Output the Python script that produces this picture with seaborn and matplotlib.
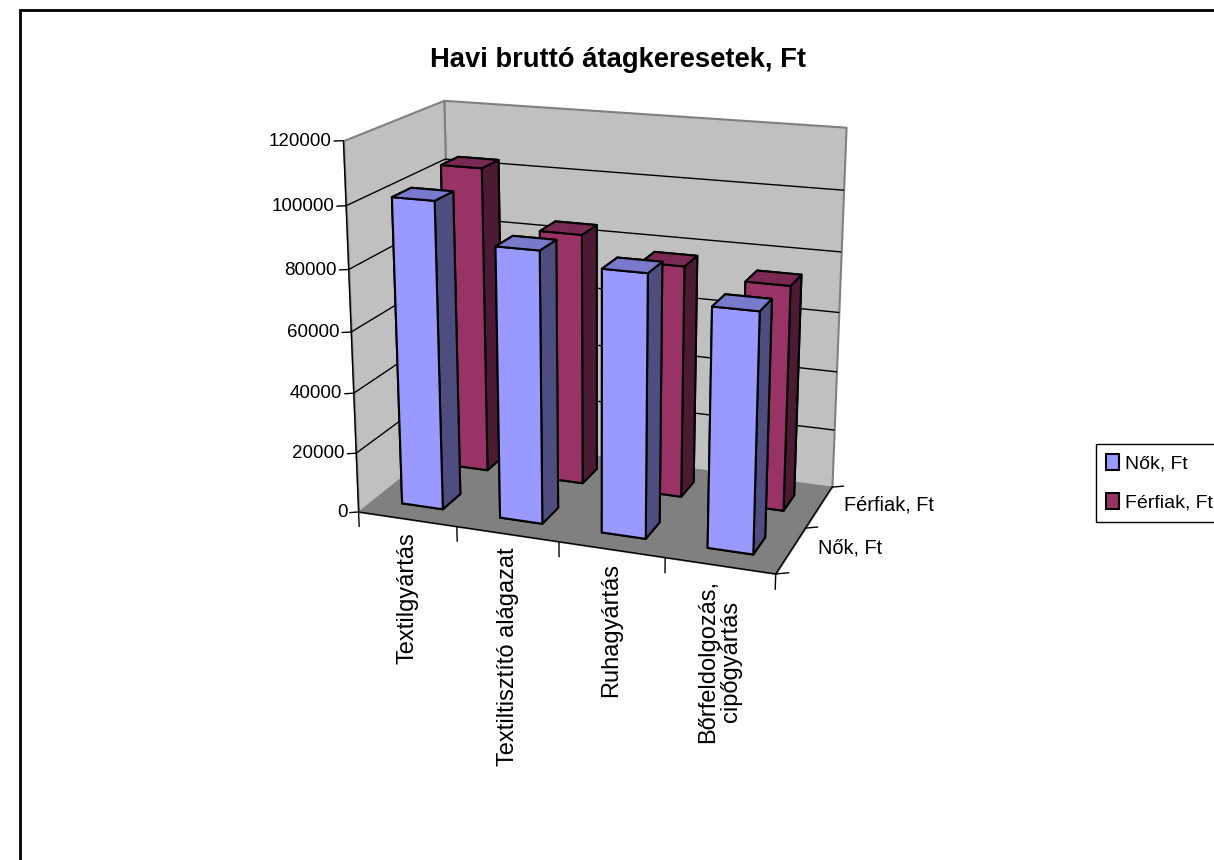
import seaborn as sns
import matplotlib.pyplot as plt
from matplotlib.patches import Patch, Rectangle
from mpl_toolkits.mplot3d import proj3d
from mpl_toolkits.mplot3d.art3d import Poly3DCollection

categories = ["Textilgyártás", "Textiltisztító alágazat", "Ruhagyártás", "Bőrfeldolgozás,\ncipőgyártás"]
series = ["Nők, Ft", "Férfiak, Ft"]
nok = [101000, 88500, 84700, 76500]
ferfiak = [103700, 84700, 77500, 74500]
z_ticks = [0, 20000, 40000, 60000, 80000, 100000, 120000]

sns.set_style("white")
plt.rcParams["font.family"] = ["Liberation Sans", "DejaVu Sans"]
plt.rcParams["text.color"] = "black"

# front, side, top shades for each series
nok_cols = ["#9999FF", "#4D4D80", "#7A7ACC"]
ferfi_cols = ["#993366", "#4D1A33", "#7A2952"]

fig = plt.figure(figsize=(12.14, 8.6), dpi=100)
fig.patch.set_facecolor("white")
fig.add_artist(Rectangle((20 / 1214, -0.05), 1.1, 0.05 + 850 / 860, transform=fig.transFigure,
                         fill=False, edgecolor="black", lw=2))

ax = fig.add_axes([-0.016, 0.112, 1.0, 1.0], projection="3d", proj_type="persp", focal_length=0.4)
ax.view_init(elev=17, azim=-70)
ax.set_box_aspect((408, 215, 358), zoom=0.703)
ax.set_axis_off()
ax.patch.set_alpha(0)
ax.computed_zorder = False

xmax, ymax, zmax = len(categories), len(series), z_ticks[-1]
ax.set_xlim(0, xmax)
ax.set_ylim(0, ymax)
ax.set_zlim(0, zmax)

# walls and floor
floor = [[(0, 0, 0), (xmax, 0, 0), (xmax, ymax, 0), (0, ymax, 0)]]
back = [[(0, ymax, 0), (xmax, ymax, 0), (xmax, ymax, zmax), (0, ymax, zmax)]]
left = [[(0, 0, 0), (0, ymax, 0), (0, ymax, zmax), (0, 0, zmax)]]
ax.add_collection3d(Poly3DCollection(floor, facecolor="#808080", edgecolor="#808080", zorder=1))
ax.add_collection3d(Poly3DCollection(back, facecolor="#C0C0C0", edgecolor="#808080", lw=1.5, zorder=1))
ax.add_collection3d(Poly3DCollection(left, facecolor="#C0C0C0", edgecolor="#808080", lw=1.5, zorder=1))

# gridlines on the walls
for z in z_ticks[1:-1]:
    ax.plot([0, 0, xmax], [0, ymax, ymax], [z, z, z], color="black", lw=1, zorder=2)

# axis lines and ticks
ax.plot([0, 0], [0, 0], [0, zmax], color="black", lw=1, zorder=3)
ax.plot([0, xmax], [0, 0], [0, 0], color="black", lw=1, zorder=3)
ax.plot([xmax, xmax], [0, ymax], [0, 0], color="black", lw=1, zorder=3)


def label(x, y, z, s, **kw):
    # text placed at a projected 3d point, so it can stay upright
    px, py, _ = proj3d.proj_transform(x, y, z, ax.get_proj())
    ax.text2D(px, py, s, transform=ax.transData, zorder=3, **kw)


for z in z_ticks:
    ax.plot([-0.07, 0], [-0.04, 0], [z, z], color="black", lw=1, zorder=3)
    label(-0.09, -0.05, z, str(z), ha="right", va="center", fontsize=13.5)
for i in range(xmax + 1):
    ax.plot([i, i], [0, 0], [0, -5000], color="black", lw=1, zorder=3)
for i in range(ymax + 1):
    ax.plot([xmax, xmax + 0.1], [i, i + 0.06], [0, 0], color="black", lw=1, zorder=3)

for i, cat in enumerate(categories):
    label(i + 0.5, 0, -4500, cat, rotation=90, ha="center", va="top", fontsize=17,
          multialignment="center", linespacing=1.05)
for j, s in enumerate(series):
    label(xmax + 0.24, j + 0.5, 2000, s, ha="left", va="center", fontsize=14.4)


def draw_bar(i, j, val, cols, order):
    w, d = 0.42, 0.38
    # bar3d face order: bottom, top, front, back, left, right
    faces = [cols[1], cols[2], cols[0], cols[0], cols[1], cols[1]]
    ax.bar3d(i + 0.5 - w / 2, j + 0.5 - d / 2, 0, w, d, val, color=faces, shade=False,
             edgecolor="black", linewidth=1.5, zorder=order)


for i, val in enumerate(ferfiak):
    draw_bar(i, 1, val, ferfi_cols, 10 + i)
for i, val in enumerate(nok):
    draw_bar(i, 0, val, nok_cols, 20 + i)

fig.text(618 / 1214, 1 - 60 / 860, "Havi bruttó átagkeresetek, Ft", ha="center", va="center",
         fontsize=19.7, fontweight="bold")

handles = [Patch(facecolor=nok_cols[0], edgecolor="black", lw=1.5, label=series[0]),
           Patch(facecolor=ferfi_cols[0], edgecolor="black", lw=1.5, label=series[1])]
leg = fig.legend(handles=handles, loc="center left", bbox_to_anchor=(1096 / 1214, 1 - 483 / 860),
                 fontsize=14, fancybox=False, edgecolor="black", framealpha=1,
                 handlelength=0.7, handleheight=0.9, handletextpad=0.3, labelspacing=1.05,
                 borderaxespad=0, borderpad=0.5)
leg.get_frame().set_linewidth(1)

fig.savefig("out.png", dpi=100)
